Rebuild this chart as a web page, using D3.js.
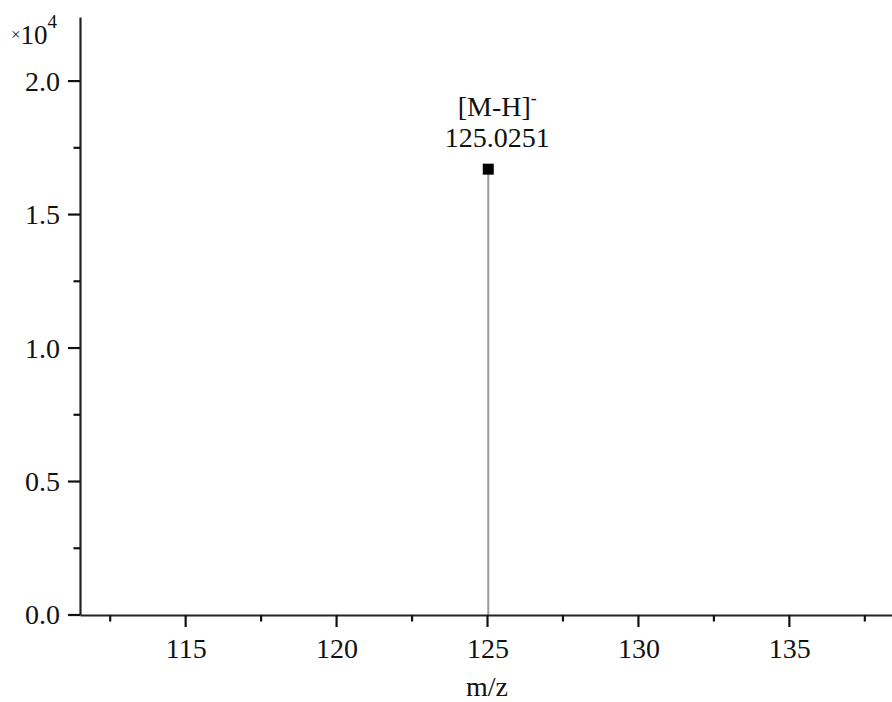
<!DOCTYPE html>
<html><head><meta charset="utf-8">
<script src="https://cdn.jsdelivr.net/npm/d3@7"></script>
<style>body{margin:0;background:#fff}svg{display:block}text{font-family:"Liberation Serif","Times New Roman",serif;fill:#111}</style>
</head><body><svg id="c" width="892" height="702"></svg>
<script>
const peakMz = [125.0251];
const peakIntensity = [16700];
const peakLabel = ["[M-H]"];
const xMajorTicks = [115, 120, 125, 130, 135];
const xMinorTicks = [112.5, 117.5, 122.5, 127.5, 132.5, 137.5];
const yMajorTicks = [0, 5000, 10000, 15000, 20000];
const yMinorTicks = [2500, 7500, 12500, 17500];

const svg = d3.select("#c");
const x = d3.scaleLinear().domain([111.5, 138.4]).range([80, 892]);
const y = d3.scaleLinear().domain([0, 22400]).range([615, 17]);
const fs = 28;

svg.selectAll("line.peak").data(peakMz).enter().append("line")
  .attr("x1", d => x(d)).attr("x2", d => x(d))
  .attr("y1", y(0)).attr("y2", (d, i) => y(peakIntensity[i]))
  .attr("stroke", "#9a9a9a").attr("stroke-width", 2);
svg.selectAll("rect.mk").data(peakMz).enter().append("rect")
  .attr("x", d => x(d) - 5.5).attr("y", (d, i) => y(peakIntensity[i]) - 5.5)
  .attr("width", 11).attr("height", 11).attr("fill", "#000");

peakMz.forEach((d, i) => {
  const t = svg.append("text").attr("x", x(d) + 9).attr("y", y(peakIntensity[i]) - 53)
    .attr("text-anchor", "middle").attr("font-size", fs);
  t.append("tspan").text(peakLabel[i]);
  t.append("tspan").attr("dy", -12).attr("font-size", 18).text("-");
  svg.append("text").attr("x", x(d) + 9).attr("y", y(peakIntensity[i]) - 22)
    .attr("text-anchor", "middle").attr("font-size", fs).text(d.toFixed(4));
});

// x axis labels + domain
const gx = svg.append("g").attr("transform", `translate(0,${y(0)})`)
  .call(d3.axisBottom(x).tickValues(xMajorTicks).tickSize(0)
    .tickSizeOuter(0).tickPadding(23).tickFormat(d3.format("d")));
gx.select(".domain").attr("stroke", "#222").attr("stroke-width", 2.2);
gx.selectAll(".tick text").attr("font-size", fs).attr("fill", "#111");

// y axis labels + domain
const gy = svg.append("g").attr("transform", `translate(${x.range()[0]},0)`)
  .call(d3.axisLeft(y).tickValues(yMajorTicks).tickSize(0)
    .tickSizeOuter(0).tickPadding(20).tickFormat(d => (d / 10000).toFixed(1)));
gy.select(".domain").attr("stroke", "#222").attr("stroke-width", 2.2);
gy.selectAll(".tick text").attr("font-size", fs).attr("fill", "#111");

// tick marks
const tg = svg.append("g").attr("class", "tickmarks");
const xt = xMajorTicks.map(v => ({v, len: 12})).concat(xMinorTicks.map(v => ({v, len: 6.5})));
tg.selectAll("line.xt").data(xt).enter().append("line").attr("class", "xt")
  .attr("x1", d => x(d.v)).attr("x2", d => x(d.v))
  .attr("y1", y(0)).attr("y2", d => y(0) + d.len)
  .attr("stroke", "#111").attr("stroke-width", 2.2);
const yt = yMajorTicks.map(v => ({v, len: 12})).concat(yMinorTicks.map(v => ({v, len: 6.5})));
tg.selectAll("line.yt").data(yt).enter().append("line").attr("class", "yt")
  .attr("x1", x.range()[0]).attr("x2", d => x.range()[0] - d.len)
  .attr("y1", d => y(d.v)).attr("y2", d => y(d.v))
  .attr("stroke", "#111").attr("stroke-width", 2.2);

const mt = svg.append("text").attr("x", 11).attr("y", 44).attr("font-size", 27);
mt.append("tspan").attr("font-size", 17).attr("dy", -4).text("×");
mt.append("tspan").attr("dy", 4).text("10");
mt.append("tspan").attr("dy", -16).attr("font-size", 19).text("4");

svg.append("text").attr("x", 487).attr("y", 696).attr("text-anchor", "middle")
  .attr("font-size", fs).text("m/z");
</script></body></html>
